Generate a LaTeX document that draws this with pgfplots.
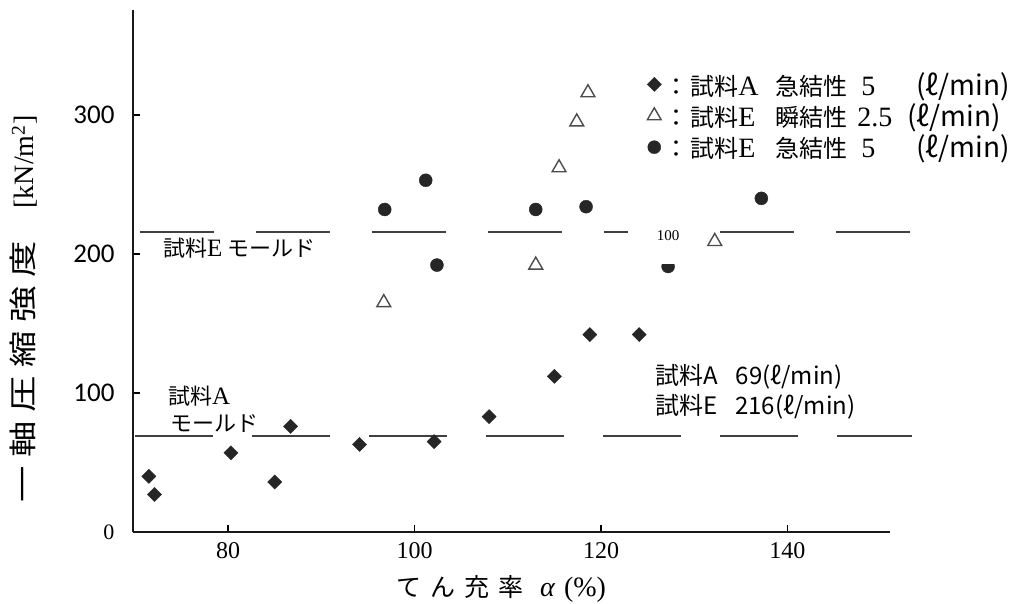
\documentclass[border=0pt]{standalone}
\usepackage{pgfplots}
\pgfplotsset{compat=1.18}
\usepackage{fontspec}
\usepackage{graphicx}
\setmainfont{Liberation Serif}
\newfontfamily\jp{Noto Sans CJK JP}
\newfontfamily\cb{Carlito}
\newcommand{\ych}[1]{\makebox[45pt]{\scalebox{1.3}[1]{#1}}}
\newcommand{\xch}[1]{\makebox[34pt]{#1}}
\newcommand{\la}[1]{{\rmfamily\fontsize{28}{28}\selectfont #1}}
\begin{document}
\begin{tikzpicture}
\begin{axis}[
  at={(0pt,0pt)}, anchor=south west,
  scale only axis, width=757pt, height=522pt,
  xmin=69.8, xmax=151, ymin=0, ymax=375.5,
  axis lines=left, axis line style={-, line width=1.6pt, black!90},
  clip=false,
  xtick={80,100,120,140}, ytick={0,100,200,300},
  xticklabels={80,100,120,140},
  yticklabels={{\rmfamily\fontsize{22}{22}\selectfont 0\hspace{-11pt}},100,200,300},
  tick align=inside, major tick length=7pt,
  tick style={line width=1.5pt, black},
  xticklabel style={font=\fontsize{24}{24}\selectfont, yshift=-7pt},
  yticklabel style={font=\cb\fontsize{27}{27}\selectfont, xshift=-15pt},
  legend style={draw=none, fill=none, at={(axis description cs:0.679,0.887)}, anchor=north west,
    font=\jp\fontsize{24}{28}\selectfont, row sep=1pt, inner sep=0pt, nodes={inner sep=3pt}},
  legend cell align=left,
  legend image code/.code={\draw[mark repeat=2,mark phase=2] plot coordinates {(0pt,0pt)(10pt,0pt)(20pt,0pt)};},
]
% mold lines
\addplot[forget plot, black!75, line width=1.6pt, dash pattern=on 74pt off 42pt] coordinates {(70.55,216) (153.7,216)};
\addplot[forget plot, black!75, line width=1.6pt, dash pattern=on 78pt off 39pt] coordinates {(70.0,69) (153.4,69)};
% A, quick-setting 5
\addplot[only marks, mark=square*, mark size=5pt, mark options={rotate=45, fill=black!85, draw=black!85}] coordinates {
(71.5,40) (72.1,27) (80.3,57) (85.0,36) (86.7,76) (94.1,63) (102.1,65) (108.0,83) (115.0,112) (118.8,142) (124.1,142)};
\addlegendentry{\makebox[26pt][l]{：}\makebox[85pt][l]{試料\la{A}}\makebox[86pt][l]{急結性}\makebox[55pt][l]{\la{5}}{\fontsize{28}{28}\selectfont (ℓ/min)}}
% E, flash-setting 2.5
\addplot[only marks, mark=triangle, mark size=8pt, mark options={draw=black!70, line width=1.4pt}] coordinates {
(96.7,165) (113.0,192) (115.5,262) (117.4,295) (118.6,316) (132.2,209)};
\addlegendentry{\makebox[26pt][l]{：}\makebox[85pt][l]{試料\la{E}}\makebox[82pt][l]{瞬結性}\makebox[50pt][l]{\la{2.5}}{\fontsize{28}{28}\selectfont (ℓ/min)}}
% E, quick-setting 5
\addplot[only marks, mark=*, mark size=6.5pt, mark options={fill=black!85, draw=black!85}] coordinates {
(96.8,232) (101.2,253) (102.4,192) (113.0,232) (118.4,234) (127.2,191) (137.2,240)};
\addlegendentry{\makebox[26pt][l]{：}\makebox[85pt][l]{試料\la{E}}\makebox[86pt][l]{急結性}\makebox[55pt][l]{\la{5}}{\fontsize{28}{28}\selectfont (ℓ/min)}}
\end{axis}
% scan patch with stray label
\fill[white] (495pt,268pt) rectangle (570pt,320pt);
\node at (535pt,296pt) {\fontsize{15}{15}\selectfont 100};
% axis titles
\node[rotate=90] at (-109pt,221pt) {{\jp\fontsize{28}{28}\selectfont \ych{一}\ych{軸}\ych{圧}\ych{縮}\ych{強}\ych{度}}\hspace{28pt}{\fontsize{28}{28}\selectfont [kN/m\textsuperscript{2}]}};
\node at (366pt,-57pt) {{\jp\fontsize{25}{25}\selectfont \xch{て}\xch{ん}\xch{充}\xch{率}}\hspace{12pt}{\fontsize{28}{28}\selectfont\itshape α\upshape\,\,(\%)}};
% mold labels
\node[anchor=west, inner sep=0pt] at (30pt,284pt) {\jp\fontsize{22}{22}\selectfont 試料{\rmfamily\fontsize{25}{25}\selectfont E} モールド};
\node[anchor=west, inner sep=0pt] at (35pt,136pt) {\jp\fontsize{22}{22}\selectfont 試料{\rmfamily\fontsize{25}{25}\selectfont A}};
\node[anchor=west, inner sep=0pt] at (37pt,108pt) {\jp\fontsize{22}{22}\selectfont モールド};
% annotation
\node[anchor=west, inner sep=0pt] at (522pt,155pt) {\jp\fontsize{24}{24}\selectfont 試料A\hspace{18pt}69(ℓ/min)};
\node[anchor=west, inner sep=0pt] at (522pt,125pt) {\jp\fontsize{24}{24}\selectfont 試料E\hspace{18pt}216(ℓ/min)};
\pgfresetboundingbox
\path[use as bounding box] (-133pt,-72pt) rectangle (884pt,532pt);
\end{tikzpicture}
\end{document}
